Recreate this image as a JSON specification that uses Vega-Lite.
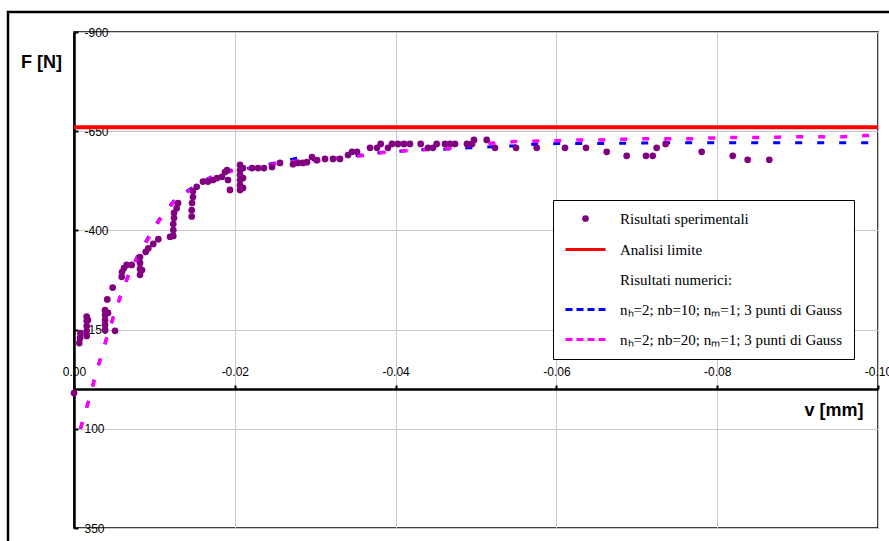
{
  "$schema": "https://vega.github.io/schema/vega-lite/v6.json",
  "width": 804,
  "height": 496,
  "autosize": "none",
  "padding": {"left": 74, "top": 32, "right": 11, "bottom": 13},
  "background": "white",
  "datasets": {
    "exp": [
      {"v": 0, "F": 10}, {"v": -0.00066, "F": -116}, {"v": -0.00075, "F": -129}, {"v": -0.00081, "F": -141},
      {"v": -0.00158, "F": -183}, {"v": -0.00158, "F": -172}, {"v": -0.00158, "F": -159}, {"v": -0.00158, "F": -147},
      {"v": -0.00158, "F": -134}, {"v": -0.00174, "F": -174}, {"v": -0.00386, "F": -199}, {"v": -0.00386, "F": -187},
      {"v": -0.00386, "F": -174}, {"v": -0.00386, "F": -162}, {"v": -0.00386, "F": -149}, {"v": -0.00423, "F": -192},
      {"v": -0.00414, "F": -226}, {"v": -0.00481, "F": -256}, {"v": -0.0051, "F": -147}, {"v": -0.00593, "F": -283},
      {"v": -0.00597, "F": -295}, {"v": -0.00622, "F": -305}, {"v": -0.00655, "F": -313}, {"v": -0.00718, "F": -313},
      {"v": -0.00821, "F": -333}, {"v": -0.00821, "F": -318}, {"v": -0.00821, "F": -303}, {"v": -0.00821, "F": -288},
      {"v": -0.00846, "F": -300}, {"v": -0.00892, "F": -346}, {"v": -0.00924, "F": -355}, {"v": -0.00986, "F": -366},
      {"v": -0.01049, "F": -378}, {"v": -0.01194, "F": -384}, {"v": -0.01235, "F": -386}, {"v": -0.01235, "F": -401},
      {"v": -0.01235, "F": -416}, {"v": -0.01244, "F": -431}, {"v": -0.01244, "F": -444}, {"v": -0.01277, "F": -456},
      {"v": -0.01294, "F": -469}, {"v": -0.01464, "F": -435}, {"v": -0.01464, "F": -451}, {"v": -0.01468, "F": -469},
      {"v": -0.0148, "F": -484}, {"v": -0.0148, "F": -499}, {"v": -0.01526, "F": -510}, {"v": -0.01604, "F": -523},
      {"v": -0.01667, "F": -523}, {"v": -0.01729, "F": -527}, {"v": -0.01779, "F": -532}, {"v": -0.01841, "F": -535},
      {"v": -0.01878, "F": -547}, {"v": -0.01903, "F": -552}, {"v": -0.01915, "F": -527}, {"v": -0.0194, "F": -502},
      {"v": -0.02065, "F": -565}, {"v": -0.02065, "F": -552}, {"v": -0.02065, "F": -540}, {"v": -0.02065, "F": -527},
      {"v": -0.02065, "F": -514}, {"v": -0.02065, "F": -502}, {"v": -0.02102, "F": -557}, {"v": -0.02102, "F": -532},
      {"v": -0.02102, "F": -507}, {"v": -0.02214, "F": -557}, {"v": -0.02289, "F": -557}, {"v": -0.02363, "F": -557},
      {"v": -0.02463, "F": -560}, {"v": -0.02562, "F": -570}, {"v": -0.02724, "F": -567}, {"v": -0.02786, "F": -570},
      {"v": -0.02848, "F": -570}, {"v": -0.02898, "F": -572}, {"v": -0.0296, "F": -585}, {"v": -0.03022, "F": -577},
      {"v": -0.03122, "F": -580}, {"v": -0.03221, "F": -580}, {"v": -0.03308, "F": -580}, {"v": -0.03408, "F": -590},
      {"v": -0.03458, "F": -598}, {"v": -0.0352, "F": -598}, {"v": -0.03682, "F": -608}, {"v": -0.03769, "F": -608},
      {"v": -0.03815, "F": -618}, {"v": -0.03905, "F": -608}, {"v": -0.03955, "F": -618}, {"v": -0.0403, "F": -618},
      {"v": -0.04104, "F": -618}, {"v": -0.04179, "F": -618}, {"v": -0.04312, "F": -618}, {"v": -0.04403, "F": -608},
      {"v": -0.04465, "F": -608}, {"v": -0.04511, "F": -618}, {"v": -0.04614, "F": -618}, {"v": -0.04677, "F": -618},
      {"v": -0.04739, "F": -618}, {"v": -0.04888, "F": -618}, {"v": -0.0495, "F": -618}, {"v": -0.04975, "F": -628},
      {"v": -0.05133, "F": -628}, {"v": -0.05236, "F": -608}, {"v": -0.05498, "F": -608}, {"v": -0.05755, "F": -608},
      {"v": -0.06107, "F": -608}, {"v": -0.06368, "F": -608}, {"v": -0.06626, "F": -598}, {"v": -0.06874, "F": -588},
      {"v": -0.07114, "F": -588}, {"v": -0.07198, "F": -588}, {"v": -0.07247, "F": -608}, {"v": -0.07359, "F": -618},
      {"v": -0.07807, "F": -598}, {"v": -0.08193, "F": -588}, {"v": -0.08379, "F": -578}, {"v": -0.08648, "F": -578}
    ],
    "num10": [
      {"v": -0.0008, "F": 100}, {"v": -0.00178, "F": 32}, {"v": -0.00252, "F": -23}, {"v": -0.00323, "F": -73},
      {"v": -0.00407, "F": -129}, {"v": -0.00485, "F": -179}, {"v": -0.00572, "F": -232}, {"v": -0.00672, "F": -286},
      {"v": -0.00784, "F": -333}, {"v": -0.00924, "F": -383}, {"v": -0.01063, "F": -429}, {"v": -0.01244, "F": -475},
      {"v": -0.01443, "F": -504}, {"v": -0.01713, "F": -536}, {"v": -0.01965, "F": -552}, {"v": -0.02226, "F": -558},
      {"v": -0.025, "F": -570}, {"v": -0.0277, "F": -582}, {"v": -0.0308, "F": -577}, {"v": -0.0357, "F": -590},
      {"v": -0.0384, "F": -597}, {"v": -0.0437, "F": -604}, {"v": -0.0465, "F": -605}, {"v": -0.0492, "F": -608},
      {"v": -0.052, "F": -611}, {"v": -0.0546, "F": -613}, {"v": -0.0573, "F": -617}, {"v": -0.0602, "F": -619},
      {"v": -0.0629, "F": -619}, {"v": -0.0656, "F": -619}, {"v": -0.0737, "F": -621}, {"v": -0.0819, "F": -621},
      {"v": -0.1, "F": -621}
    ],
    "num20": [
      {"v": -0.0008, "F": 100}, {"v": -0.00178, "F": 32}, {"v": -0.00252, "F": -23}, {"v": -0.00323, "F": -73},
      {"v": -0.00407, "F": -129}, {"v": -0.00485, "F": -179}, {"v": -0.00572, "F": -230}, {"v": -0.00672, "F": -283},
      {"v": -0.00784, "F": -330}, {"v": -0.00924, "F": -380}, {"v": -0.01063, "F": -426}, {"v": -0.01244, "F": -472},
      {"v": -0.01443, "F": -502}, {"v": -0.01713, "F": -534}, {"v": -0.01965, "F": -550}, {"v": -0.02226, "F": -557},
      {"v": -0.025, "F": -568}, {"v": -0.02774, "F": -575}, {"v": -0.0304, "F": -576}, {"v": -0.0357, "F": -588},
      {"v": -0.0384, "F": -596}, {"v": -0.0412, "F": -601}, {"v": -0.0439, "F": -604}, {"v": -0.0466, "F": -607},
      {"v": -0.0495, "F": -615}, {"v": -0.0521, "F": -620}, {"v": -0.0549, "F": -624}, {"v": -0.0576, "F": -625},
      {"v": -0.0602, "F": -626}, {"v": -0.0629, "F": -628}, {"v": -0.0658, "F": -628}, {"v": -0.0685, "F": -630},
      {"v": -0.0712, "F": -631}, {"v": -0.0739, "F": -631}, {"v": -0.0767, "F": -631}, {"v": -0.0794, "F": -633},
      {"v": -0.0821, "F": -634}, {"v": -0.0848, "F": -634}, {"v": -0.0875, "F": -635}, {"v": -0.0903, "F": -636},
      {"v": -0.093, "F": -636}, {"v": -0.0957, "F": -636}, {"v": -0.0984, "F": -639}, {"v": -0.1, "F": -640}
    ],
    "lim": [{"F": -660}]
  },
  "layer": [
    {
      "data": {"values": [{}]},
      "mark": {"type": "rect", "fill": "transparent", "stroke": "black", "strokeWidth": 2.5, "clip": false},
      "encoding": {
        "x": {"datum": 0.00821, "type": "quantitative", "scale": {"domain": [-0.1, 0], "reverse": true, "nice": false, "zero": false}},
        "x2": {"datum": -0.1025},
        "y": {"datum": -950.4, "type": "quantitative", "scale": {"domain": [-900, 350], "reverse": true, "nice": false, "zero": false}},
        "y2": {"datum": 420}
      }
    },
    {
      "data": {"name": "num10"},
      "transform": [{"calculate": "'nₕ=2; nb=10; nₘ=1; 3 punti di Gauss'", "as": "series"}],
      "mark": {"type": "line", "strokeWidth": 3, "strokeDash": [7, 15], "clip": true},
      "encoding": {
        "x": {"field": "v", "type": "quantitative"},
        "y": {"field": "F", "type": "quantitative"},
        "stroke": {
          "field": "series", "type": "nominal", "legend": {"title": null},
          "scale": {
            "domain": ["Risultati  sperimentali", "Analisi limite", "Risultati  numerici:", "nₕ=2; nb=10; nₘ=1; 3 punti di Gauss", "nₕ=2; nb=20; nₘ=1; 3 punti di Gauss"],
            "range": ["transparent", "#ff0000", "transparent", "#0000ff", "#ff00ff"]
          }
        }
      }
    },
    {
      "data": {"name": "num20"},
      "transform": [{"calculate": "'nₕ=2; nb=20; nₘ=1; 3 punti di Gauss'", "as": "series"}],
      "mark": {"type": "line", "strokeWidth": 3.5, "strokeDash": [7, 15], "clip": true},
      "encoding": {
        "x": {"field": "v", "type": "quantitative"},
        "y": {"field": "F", "type": "quantitative"},
        "stroke": {"field": "series", "type": "nominal", "legend": {"title": null}}
      }
    },
    {
      "data": {"name": "exp"},
      "transform": [{"calculate": "'Risultati  sperimentali'", "as": "series"}],
      "mark": {"type": "point", "filled": true, "opacity": 1},
      "encoding": {
        "x": {
          "field": "v", "type": "quantitative",
          "axis": {
            "orient": "bottom", "offset": -139,
            "values": [0, -0.02, -0.04, -0.06, -0.08, -0.1],
            "labelExpr": "(datum.value < 0 ? '-' : '') + format(abs(datum.value), '.2f')",
            "grid": true, "gridColor": "#c8c8c8", "gridWidth": 1,
            "domainColor": "black", "domainWidth": 2.5,
            "tickColor": "black", "tickWidth": 2, "tickSize": -4,
            "labelBaseline": "middle", "labelPadding": -14, "labelFlush": false, "labelOverlap": false, "labelBound": false,
            "labelFont": "Liberation Sans", "labelFontSize": 12, "labelColor": "black",
            "title": "v [mm]", "titleFont": "Liberation Sans", "titleFontSize": 18, "titleFontWeight": "bold", "titleColor": "black",
            "titleX": 789, "titleY": 21, "titleAlign": "right", "titleBaseline": "middle", "titleAngle": 0
          }
        },
        "y": {
          "field": "F", "type": "quantitative",
          "axis": {
            "orient": "left",
            "values": [-900, -650, -400, -150, 100, 350],
            "labelExpr": "(datum.value < 0 ? '-' : '') + format(abs(datum.value), 'd')",
            "grid": true, "gridColor": "#c8c8c8", "gridWidth": 1,
            "domainColor": "black", "domainWidth": 2.5,
            "tickColor": "black", "tickWidth": 2, "tickSize": -4,
            "labelAlign": "left", "labelBaseline": "middle", "labelPadding": -6, "labelOverlap": false, "labelBound": false, "labelFlush": false,
            "labelFont": "Liberation Sans", "labelFontSize": 12, "labelColor": "black",
            "title": "F [N]", "titleFont": "Liberation Sans", "titleFontSize": 18, "titleFontWeight": "bold", "titleColor": "black",
            "titleX": -33, "titleY": 30, "titleAlign": "center", "titleBaseline": "middle", "titleAngle": 0
          }
        },
        "fill": {
          "field": "series", "type": "nominal", "legend": {"title": null},
          "scale": {
            "domain": ["Risultati  sperimentali", "Analisi limite", "Risultati  numerici:", "nₕ=2; nb=10; nₘ=1; 3 punti di Gauss", "nₕ=2; nb=20; nₘ=1; 3 punti di Gauss"],
            "range": ["#800080", "transparent", "transparent", "transparent", "transparent"]
          }
        },
        "shape": {
          "field": "series", "type": "nominal", "legend": {"title": null},
          "scale": {
            "domain": ["Risultati  sperimentali", "Analisi limite", "Risultati  numerici:", "nₕ=2; nb=10; nₘ=1; 3 punti di Gauss", "nₕ=2; nb=20; nₘ=1; 3 punti di Gauss"],
            "range": ["circle", "stroke", "stroke", "stroke", "stroke"]
          }
        },
        "size": {
          "field": "series", "type": "nominal", "legend": {"title": null},
          "scale": {
            "type": "ordinal",
            "domain": ["Risultati  sperimentali", "Analisi limite", "Risultati  numerici:", "nₕ=2; nb=10; nₘ=1; 3 punti di Gauss", "nₕ=2; nb=20; nₘ=1; 3 punti di Gauss"],
            "range": [45, 1600, 1600, 1600, 1600]
          }
        }
      }
    },
    {
      "data": {"name": "lim"},
      "transform": [{"calculate": "'Analisi limite'", "as": "series"}],
      "mark": {"type": "rule", "strokeWidth": 4},
      "encoding": {
        "y": {"field": "F", "type": "quantitative"},
        "stroke": {"field": "series", "type": "nominal", "legend": {"title": null}},
        "strokeDash": {
          "field": "series", "type": "nominal", "legend": {"title": null},
          "scale": {
            "domain": ["Risultati  sperimentali", "Analisi limite", "Risultati  numerici:", "nₕ=2; nb=10; nₘ=1; 3 punti di Gauss", "nₕ=2; nb=20; nₘ=1; 3 punti di Gauss"],
            "range": [[1, 0], [1, 0], [1, 0], [7, 4], [7, 4]]
          }
        }
      }
    }
  ],
  "config": {
    "view": {"stroke": "black", "strokeWidth": 1.5},
    "font": "Liberation Sans",
    "legend": {
      "orient": "none", "legendX": 479, "legendY": 168,
      "fillColor": "white", "strokeColor": "black",
      "padding": 11, "rowPadding": -6,
      "labelOffset": 13, "symbolStrokeWidth": 3, "symbolOpacity": 1,
      "labelFont": "Liberation Serif", "labelFontSize": 15, "labelColor": "black", "labelLimit": 400
    }
  }
}
